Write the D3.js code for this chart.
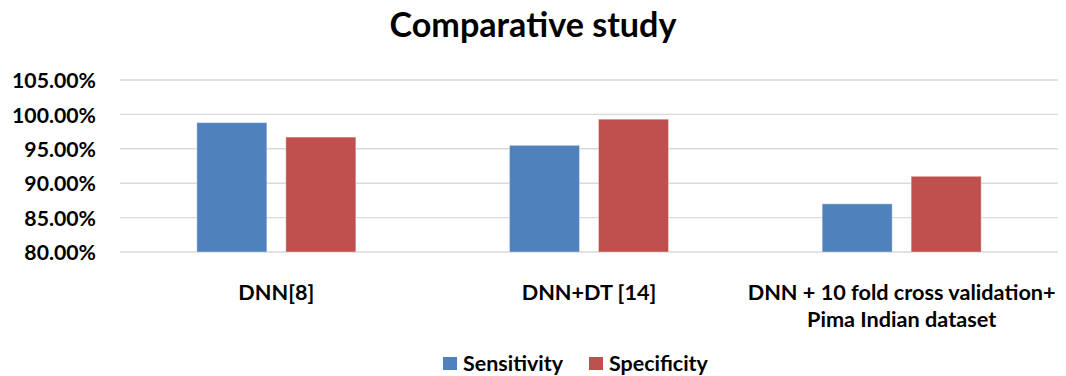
<!DOCTYPE html>
<html>
<head>
<meta charset="utf-8">
<script src="https://cdn.jsdelivr.net/npm/d3@7"></script>
<style>
  html, body { margin: 0; padding: 0; background: #fff; }
  svg { display: block; }
  text { font-family: Lato, "Open Sans", sans-serif; font-weight: 700; fill: #000; }
</style>
</head>
<body>
<svg id="chart" width="1066" height="376"></svg>
<script>
// Chart data
const categories = ["DNN[8]", "DNN+DT [14]", "DNN + 10 fold cross validation+\nPima Indian dataset"];
const seriesNames = ["Sensitivity", "Specificity"];
const sensitivity = [0.988, 0.955, 0.870];
const specificity = [0.967, 0.993, 0.910];
const yTicks = [0.80, 0.85, 0.90, 0.95, 1.00, 1.05];
const seriesColors = ["#4F81BD", "#C0504D"];

const svg = d3.select("#chart");
const plot = { left: 120, right: 1058, top: 80, bottom: 252 };

const y = d3.scaleLinear().domain([0.80, 1.05]).range([plot.bottom, plot.top]);
const x0 = d3.scaleBand().domain(categories).range([plot.left, plot.right]).padding(0);
const groupW = x0.bandwidth() * 0.5085;
const x1 = d3.scaleBand().domain(seriesNames).range([0, groupW]).paddingInner(0.2135).paddingOuter(0);
const color = d3.scaleOrdinal().domain(seriesNames).range(seriesColors);

// scale a text group's font so a reference string reaches a given width
function fitSize(sel, refNode, targetW, base) {
  sel.style("font-size", base + "px");
  const w = refNode.getComputedTextLength();
  const size = base * targetW / w;
  sel.style("font-size", size + "px");
  return size;
}

// Title
const title = svg.append("text")
  .attr("x", 533).attr("y", 37)
  .attr("text-anchor", "middle")
  .text("Comparative study");
fitSize(title, title.node(), 287, 30);

// Gridlines
svg.append("g").selectAll("line").data(yTicks).join("line")
  .attr("x1", plot.left).attr("x2", plot.right)
  .attr("y1", d => y(d)).attr("y2", d => y(d))
  .attr("stroke", "#d9d9d9").attr("stroke-width", 1.4);

// Y axis labels
const yAxis = svg.append("g")
  .attr("transform", `translate(${plot.left},0)`)
  .call(d3.axisLeft(y).tickValues(yTicks).tickFormat(d3.format(".2%")).tickSize(0).tickPadding(24));
yAxis.select(".domain").remove();
const yTexts = yAxis.selectAll("text").attr("fill", "#000").attr("font-family", null).style("font-family", "Lato, 'Open Sans', sans-serif").style("font-weight", 700);
fitSize(yTexts, yTexts.filter(d => d === 1.05).node(), 84, 18);
yTexts.attr("dy", "0.36em");

// Bars
const rows = categories.map((c, i) => ({ cat: c, values: [
  { key: "Sensitivity", value: sensitivity[i] },
  { key: "Specificity", value: specificity[i] }
]}));
const groups = svg.append("g").selectAll("g").data(rows).join("g")
  .attr("transform", d => `translate(${x0(d.cat) + (x0.bandwidth() - groupW) / 2},0)`);
groups.selectAll("rect").data(d => d.values).join("rect")
  .attr("x", d => x1(d.key))
  .attr("width", x1.bandwidth())
  .attr("y", d => y(d.value))
  .attr("height", d => y(0.80) - y(d.value))
  .attr("fill", d => color(d.key))
  .attr("stroke", "rgba(255,255,255,0.35)")
  .attr("stroke-width", 1);

// Category labels
const catG = svg.append("g");
const catTexts = catG.selectAll("text").data(categories).join("text")
  .attr("text-anchor", "middle")
  .attr("x", d => x0(d) + x0.bandwidth() / 2);
catTexts.each(function(d) {
  const lines = d.split("\n");
  d3.select(this).selectAll("tspan").data(lines).join("tspan")
    .attr("x", x0(d) + x0.bandwidth() / 2)
    .attr("y", (l, i) => 300 + i * 27)
    .text(l => l);
});
const refSpan = catTexts.filter((d, i) => i === 2).select("tspan").node();
{
  catTexts.style("font-size", "20px");
  const w = refSpan.getComputedTextLength();
  catTexts.style("font-size", (20 * 308 / w) + "px");
}

// Legend
const legendItems = [
  { key: "Sensitivity", sx: 443, tx: 463 },
  { key: "Specificity", sx: 589, tx: 609 }
];
const lg = svg.append("g");
lg.selectAll("rect").data(legendItems).join("rect")
  .attr("x", d => d.sx).attr("y", 357)
  .attr("width", 14).attr("height", 13)
  .attr("fill", d => color(d.key));
const legTexts = lg.selectAll("text").data(legendItems).join("text")
  .attr("x", d => d.tx).attr("y", 371)
  .text(d => d.key);
fitSize(legTexts, legTexts.node(), 100, 18);
</script>
</body>
</html>
